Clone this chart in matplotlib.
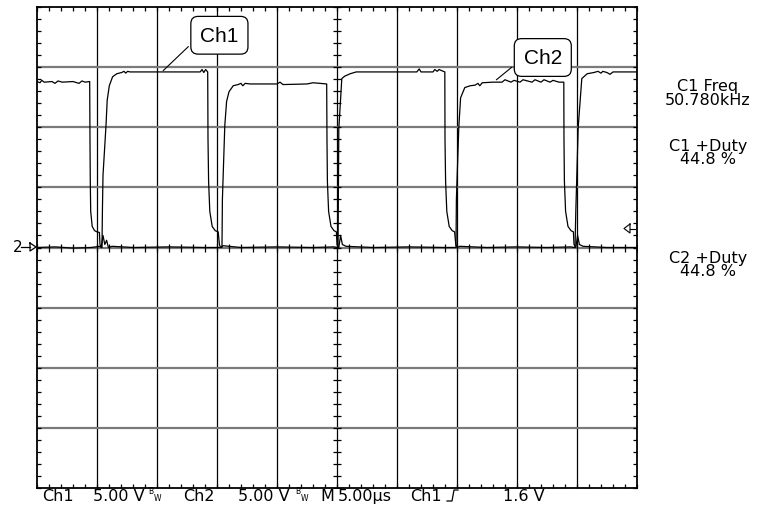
import matplotlib
matplotlib.use('Agg')
import matplotlib.pyplot as plt
import numpy as np
from matplotlib.lines import Line2D

# screen is 10 x 8 divisions, ground of both channels at the centre line
# traces, in divisions (x: 0..10, y: -4..4)
ch1_x = [0.00, 0.30, 0.60, 0.90, 1.05, 1.075, 1.083, 1.09, 1.10, 1.15, 1.17, 1.205, 1.26, 1.33, 1.41,
         1.45, 1.48, 1.51, 1.55, 2.00, 2.40, 2.72, 2.75, 2.78, 2.81, 2.845,
         2.85, 2.86, 2.88, 2.92, 2.97, 3.02, 3.04, 3.06, 3.10, 3.40, 4.00, 4.60, 4.95, 5.00,
         5.017, 5.03, 5.08, 5.13, 5.22, 5.32, 5.45, 6.00, 6.33, 6.37, 6.40, 6.60, 6.63, 6.67, 6.70, 6.797,
         6.80, 6.81, 6.83, 6.87, 6.92, 6.96, 6.98, 7.00, 7.05, 7.50, 8.00, 8.50, 8.90, 8.95,
         8.967, 8.98, 9.02, 9.08, 9.17, 9.28, 9.35, 9.40, 9.43, 9.50, 9.55, 9.60, 10.00]
ch1_y = [0.00, 0.01, -0.01, 0.00, 0.02, 0.00, 0.00, 0.60, 1.20, 2.03, 2.45, 2.69, 2.84, 2.89, 2.91,
         2.93, 2.90, 2.93, 2.92, 2.92, 2.92, 2.92, 2.96, 2.91, 2.96, 2.92,
         1.80, 1.10, 0.60, 0.35, 0.28, 0.26, 0.05, 0.00, 0.03, 0.00, 0.01, 0.00, 0.01, 0.00,
         0.00, 1.97, 2.81, 2.85, 2.89, 2.92, 2.92, 2.92, 2.92, 2.97, 2.92, 2.92, 2.96, 2.93, 2.96, 2.92,
         1.80, 1.10, 0.60, 0.35, 0.28, 0.26, 0.05, 0.00, 0.02, 0.00, 0.01, 0.00, 0.01, 0.00,
         0.00, 0.60, 2.00, 2.81, 2.89, 2.91, 2.93, 2.90, 2.93, 2.91, 2.88, 2.92, 2.92]

ch2_x = [0.00, 0.05, 0.08, 0.12, 0.25, 0.30, 0.35, 0.42, 0.60, 0.70, 0.75, 0.80, 0.878,
         0.883, 0.888, 0.895, 0.92, 0.96, 1.00, 1.04, 1.05, 1.07, 1.10, 1.13, 1.16, 1.19, 1.25, 1.60, 2.20, 2.80, 3.05,
         3.083, 3.09, 3.13, 3.16, 3.20, 3.27, 3.35, 3.40, 3.43, 3.47, 3.55, 4.00, 4.00, 4.05, 4.10, 4.50, 4.60, 4.828,
         4.833, 4.84, 4.86, 4.90, 4.95, 4.99, 5.00, 5.03, 5.06, 5.09, 5.15, 5.60, 6.20, 6.80, 6.95,
         6.983, 6.99, 7.03, 7.06, 7.13, 7.22, 7.30, 7.35, 7.38, 7.42, 7.60, 7.75, 7.80, 7.90, 7.95, 8.05, 8.10, 8.25,
         8.30, 8.40, 8.45, 8.55, 8.60, 8.70, 8.78,
         8.783, 8.79, 8.81, 8.85, 8.90, 8.94, 8.95, 8.98, 9.01, 9.04, 9.10, 9.50, 10.00]
ch2_y = [2.76, 2.74, 2.78, 2.75, 2.76, 2.73, 2.77, 2.75, 2.76, 2.73, 2.77, 2.75, 2.76,
         1.80, 1.10, 0.60, 0.35, 0.28, 0.26, 0.25, 0.05, 0.00, 0.20, 0.05, 0.12, 0.00, 0.02, 0.00, 0.01, 0.00, 0.00,
         0.00, 0.80, 2.03, 2.43, 2.59, 2.69, 2.71, 2.73, 2.69, 2.73, 2.72, 2.72, 2.72, 2.75, 2.71, 2.72, 2.74, 2.72,
         1.80, 1.10, 0.60, 0.35, 0.28, 0.26, 0.05, 0.00, 0.20, 0.05, 0.02, 0.00, 0.01, 0.00, 0.00,
         0.00, 0.80, 2.00, 2.49, 2.66, 2.69, 2.70, 2.73, 2.69, 2.74, 2.75, 2.75, 2.79, 2.75, 2.78, 2.75, 2.79, 2.75,
         2.79, 2.75, 2.79, 2.75, 2.78, 2.75, 2.75,
         1.80, 1.10, 0.60, 0.35, 0.28, 0.26, 0.05, 0.00, 0.20, 0.05, 0.02, 0.00, 0.00]

bottom_texts = [(42, 'Ch1'), (93, '5.00 V'), (183, 'Ch2'), (238, '5.00 V'),
                (320, 'M'), (338, '5.00\u00b5s'), (410, 'Ch1'), (503, '1.6 V')]
meas_texts = [(86, 'C1 Freq'), (101, '50.780kHz'), (146, 'C1 +Duty'), (160, '44.8 %'),
              (258, 'C2 +Duty'), (272, '44.8 %')]

W, H = 760, 506
fig = plt.figure(figsize=(W / 100, H / 100), dpi=100)
ax = fig.add_axes([37 / W, 1 - 489 / H, 600 / W, 481 / H])
ax.set_xlim(0, 10)
ax.set_ylim(-4, 4)

def px(x, y):
    return x / W, 1 - y / H

# graticule
for i in range(1, 10):
    ax.axvline(i, color='black', lw=0.9, zorder=1)
for j in range(-3, 4):
    ax.axhline(j, color='#7a7a7a', lw=1.6, zorder=1)
ticks = np.arange(0, 10.01, 0.2)
ax.plot(ticks, np.zeros_like(ticks), ls='none', marker='|', ms=6, mew=0.9, color='black', zorder=2)
yt = np.arange(-4, 4.01, 0.2)
ax.plot(np.full_like(yt, 5), yt, ls='none', marker='_', ms=6, mew=0.9, color='black', zorder=2)

ax.set_xticks(ticks)
ax.set_yticks(yt)
ax.tick_params(which='both', direction='in', length=3, width=0.9, top=True, right=True,
               labelbottom=False, labelleft=False)
for s in ax.spines.values():
    s.set_linewidth(1.3)

# traces
ax.plot(ch1_x, ch1_y, color='black', lw=0.9, zorder=3)
ax.plot(ch2_x, ch2_y, color='black', lw=0.9, zorder=3)

# channel labels
box = dict(boxstyle='round,pad=0.45,rounding_size=0.35', fc='white', ec='black', lw=0.9)
ax.annotate('Ch1', xy=(2.07, 2.91), xytext=(3.04, 3.53), ha='center', va='center',
            fontsize=15, family='Liberation Sans', bbox=box,
            arrowprops=dict(arrowstyle='-', lw=0.8, color='black', relpos=(0, 0.5)), zorder=5)
ax.annotate('Ch2', xy=(7.62, 2.76), xytext=(8.43, 3.16), ha='center', va='center',
            fontsize=15, family='Liberation Sans', bbox=box,
            arrowprops=dict(arrowstyle='-', lw=0.8, color='black', relpos=(0, 0.5)), zorder=5)

# ground marker "2->" and trigger level marker
fig.text(*px(13, 248), '2', fontsize=11, va='center', ha='left', color='black')
fig.add_artist(Line2D([21 / W, 30 / W], [1 - 248 / H] * 2, color='black', lw=0.9))
fig.add_artist(Line2D([30 / W, 30 / W, 36 / W, 30 / W], [1 - 244 / H, 1 - 252 / H, 1 - 248 / H, 1 - 244 / H],
                      color='black', lw=0.9))
fig.add_artist(Line2D([630 / W, 624 / W, 630 / W, 630 / W], [1 - 225 / H, 1 - 229.5 / H, 1 - 234 / H, 1 - 225 / H],
                      color='black', lw=0.8))
fig.add_artist(Line2D([630 / W, 635 / W], [1 - 229.5 / H] * 2, color='black', lw=0.8))

# bottom status line
for x, t in bottom_texts:
    fig.text(*px(x, 497), t, fontsize=11.5, va='center', ha='left', color='black')
for x in (148, 295):
    fig.text(*px(x, 492), 'B', fontsize=5.5, va='center', ha='left')
    fig.text(*px(x + 6, 499), 'W', fontsize=5.5, va='center', ha='left')
fig.add_artist(Line2D([447 / W, 452 / W, 454 / W, 458 / W],
                      [1 - 502 / H, 1 - 502 / H, 1 - 491 / H, 1 - 491 / H], color='black', lw=0.9))

# measurement readouts
for y, t in meas_texts:
    fig.text(*px(708, y), t, fontsize=11.5, va='center', ha='center', color='black')

fig.savefig('out.png', dpi=100)
